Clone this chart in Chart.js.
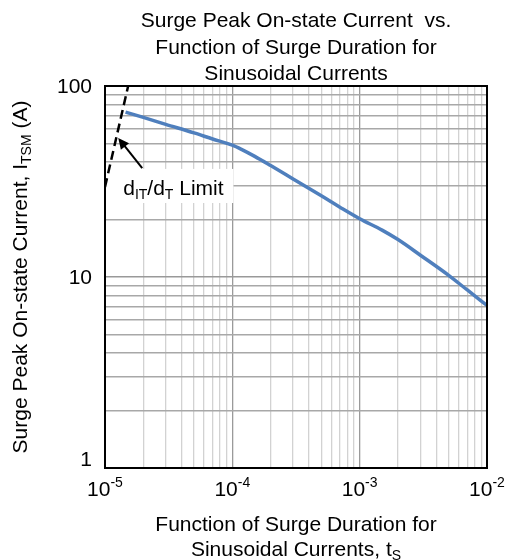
<!DOCTYPE html>
<html>
<head>
<meta charset="utf-8">
<script src="https://cdn.jsdelivr.net/npm/chart.js@4.4.0/dist/chart.umd.min.js"></script>
<style>
  body { margin: 0; background: #fff; }
  #wrap { width: 506px; height: 560px; }
</style>
</head>
<body>
<div id="wrap"><canvas id="surge-chart"></canvas></div>
<script>
// surge duration (s) and peak on-state current (A)
const durations = [1.45e-5, 2e-5, 3e-5, 5e-5, 7e-5, 1e-4, 1.2e-4, 1.5e-4, 2e-4, 3e-4, 5e-4, 7e-4, 1e-3, 1.5e-3, 2e-3, 3e-3, 5e-3, 7e-3, 1e-2];
const currents = [73, 68.5, 63, 56.8, 52.8, 49, 46.3, 42.8, 38.3, 32.6, 26.6, 23.2, 20.2, 17.6, 15.7, 13, 10.2, 8.55, 7.1];

// di/dt limit line
const limitX = [1e-5, 1.52e-5];
const limitY = [29.6, 100];

// tick labels (decades only)
const xTickExps = [-5, -4, -3, -2];
const yTickLabels = [1, 10, 100];

const titleLines = ['Surge Peak On-state Current  vs.', 'Function of Surge Duration for', 'Sinusoidal Currents'];

function logGrid(minExp, maxExp) {
  const out = [];
  for (let e = minExp; e < maxExp; e++) {
    for (let s = 1; s < 10; s++) out.push(s * Math.pow(10, e));
  }
  out.push(Math.pow(10, maxExp));
  return out;
}

const FONT = '"Liberation Sans", Arial, sans-serif';

// draws text made of pieces, each {t, size, dy}
function drawPieces(ctx, pieces, x, y, align) {
  let total = 0;
  pieces.forEach(p => { ctx.font = p.size + 'px ' + FONT; p.w = ctx.measureText(p.t).width; total += p.w; });
  let cx = align === 'center' ? x - total / 2 : (align === 'right' ? x - total : x);
  ctx.textAlign = 'left';
  pieces.forEach(p => {
    ctx.font = p.size + 'px ' + FONT;
    ctx.fillText(p.t, cx, y + (p.dy || 0));
    cx += p.w;
  });
}

const decorations = {
  id: 'decorations',
  beforeDatasetsDraw(chart) {
    const { ctx, scales: { x, y } } = chart;
    // white label box
    const x0 = x.getPixelForValue(1e-5), x1 = x.getPixelForValue(1.02e-4);
    const y0 = y.getPixelForValue(36.8), y1 = y.getPixelForValue(24.4);
    ctx.save();
    ctx.fillStyle = '#fff';
    ctx.fillRect(x0, y0, x1 - x0, y1 - y0);
    ctx.restore();
  },
  afterDraw(chart) {
    const { ctx, chartArea: a, scales: { x, y } } = chart;
    ctx.save();
    ctx.fillStyle = '#000';
    ctx.textBaseline = 'alphabetic';

    // frame
    ctx.strokeStyle = '#000';
    ctx.lineWidth = 2;
    ctx.strokeRect(a.left, a.top, a.right - a.left, a.bottom - a.top);

    // title
    ctx.font = '21px ' + FONT;
    ctx.textAlign = 'center';
    const cx = (a.left + a.right) / 2;
    titleLines.forEach((t, i) => ctx.fillText(t, cx, 27 + i * 26.5));

    // y tick labels
    ctx.font = '21px ' + FONT;
    ctx.textAlign = 'right';
    ctx.textBaseline = 'middle';
    yTickLabels.forEach(v => {
      let py = y.getPixelForValue(v);
      if (v === 1) py -= 9;
      ctx.fillText(String(v), a.left - 13, py + 1);
    });

    // x tick labels
    ctx.textBaseline = 'alphabetic';
    xTickExps.forEach(e => {
      const px = x.getPixelForValue(Math.pow(10, e));
      drawPieces(ctx, [{ t: '10', size: 21 }, { t: '-' + Math.abs(e), size: 14, dy: -9 }], px, 496, 'center');
    });

    // x axis title
    drawPieces(ctx, [{ t: 'Function of Surge Duration for', size: 21 }], cx, 531, 'center');
    drawPieces(ctx, [{ t: 'Sinusoidal Currents, t', size: 21 }, { t: 'S', size: 14, dy: 4 }], cx, 556, 'center');

    // y axis title
    ctx.save();
    ctx.translate(27, (a.top + a.bottom) / 2);
    ctx.rotate(-Math.PI / 2);
    drawPieces(ctx, [{ t: 'Surge Peak On-state Current, I', size: 21 }, { t: 'TSM', size: 14, dy: 4 }, { t: ' (A)', size: 21 }], 0, 0, 'center');
    ctx.restore();

    // annotation text
    const tx = x.getPixelForValue(1.39e-5), ty = y.getPixelForValue(26.9);
    drawPieces(ctx, [
      { t: 'd', size: 21 }, { t: 'IT', size: 14, dy: 4 }, { t: '/d', size: 21 },
      { t: 'T', size: 14, dy: 4 }, { t: ' Limit', size: 21 }
    ], tx, ty, 'left');

    // arrow
    const ax0 = x.getPixelForValue(1.96e-5), ay0 = y.getPixelForValue(37.2);
    const ax1 = x.getPixelForValue(1.27e-5), ay1 = y.getPixelForValue(53.4);
    const ang = Math.atan2(ay1 - ay0, ax1 - ax0);
    ctx.strokeStyle = '#000';
    ctx.lineWidth = 2;
    ctx.beginPath();
    ctx.moveTo(ax0, ay0);
    ctx.lineTo(ax1 - 6 * Math.cos(ang), ay1 - 6 * Math.sin(ang));
    ctx.stroke();
    ctx.beginPath();
    ctx.moveTo(ax1, ay1);
    ctx.lineTo(ax1 - 12 * Math.cos(ang - 0.45), ay1 - 12 * Math.sin(ang - 0.45));
    ctx.lineTo(ax1 - 12 * Math.cos(ang + 0.45), ay1 - 12 * Math.sin(ang + 0.45));
    ctx.closePath();
    ctx.fill();

    ctx.restore();
  }
};

new Chart(document.getElementById('surge-chart'), {
  type: 'line',
  data: {
    datasets: [
      {
        data: durations.map((d, i) => ({ x: d, y: currents[i] })),
        borderColor: '#4f7fbd',
        borderWidth: 3.5,
        pointRadius: 0,
        cubicInterpolationMode: 'monotone'
      },
      {
        data: limitX.map((d, i) => ({ x: d, y: limitY[i] })),
        borderColor: '#000',
        borderWidth: 2.5,
        borderDash: [9, 5],
        pointRadius: 0
      }
    ]
  },
  options: {
    responsive: true,
    maintainAspectRatio: false,
    animation: false,
    layout: { padding: { left: 105, right: 19, top: 86, bottom: 92 } },
    plugins: { legend: { display: false }, tooltip: { enabled: false } },
    scales: {
      x: {
        type: 'logarithmic',
        min: 1e-5,
        max: 1e-2,
        afterBuildTicks: s => { s.ticks = logGrid(-5, -2).map(v => ({ value: v })); },
        ticks: { display: false },
        border: { display: false },
        grid: {
          drawTicks: false,
          lineWidth: 1.3,
          color: c => {
            const v = c.tick ? c.tick.value : 0;
            const m = Math.abs(Math.log10(v) - Math.round(Math.log10(v))) < 1e-6;
            return m ? '#9a9a9a' : '#d2d2d2';
          }
        }
      },
      y: {
        type: 'logarithmic',
        min: 1,
        max: 100,
        afterBuildTicks: s => { s.ticks = logGrid(0, 2).map(v => ({ value: v })); },
        ticks: { display: false },
        border: { display: false },
        grid: {
          drawTicks: false,
          lineWidth: 1.6,
          color: c => {
            const v = c.tick ? c.tick.value : 0;
            const m = Math.abs(Math.log10(v) - Math.round(Math.log10(v))) < 1e-6;
            return m ? '#999999' : '#a8a8a8';
          }
        }
      }
    }
  },
  plugins: [decorations]
});
</script>
</body>
</html>
